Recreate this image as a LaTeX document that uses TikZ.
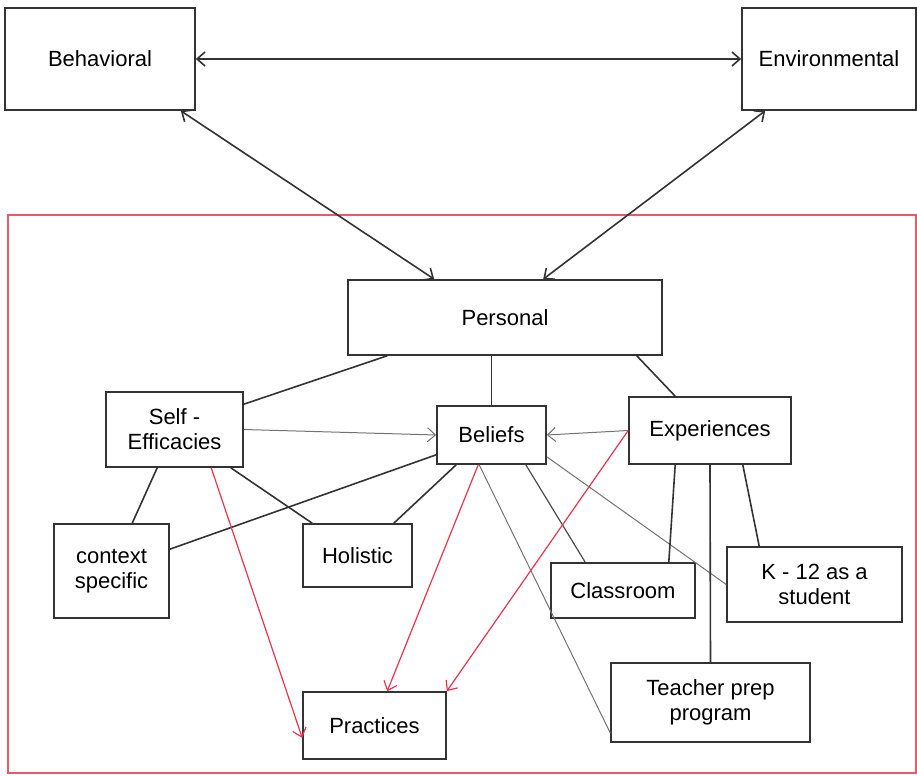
\documentclass[tikz,border=0pt]{standalone}
\usepackage{fontspec}
\setmainfont{Liberation Sans}
\usetikzlibrary{arrows.meta}
\definecolor{framered}{RGB}{232,90,105}
\definecolor{arrowred}{RGB}{232,52,78}

\begin{document}
\begin{tikzpicture}[
    x=0.5pt, y=-0.5pt,
    >={Straight Barb[length=4pt, width=7pt]},
    box/.style={draw=black!80, line width=0.8pt, rectangle, align=center, inner sep=0pt,
                font=\fontsize{11}{12.5}\selectfont},
    link/.style={draw=black!80, line width=0.8pt},
    thin link/.style={draw=black!55, line width=0.5pt},
    redarrow/.style={draw=arrowred, line width=0.6pt, ->}
]
  \useasboundingbox (0,0) rectangle (917,776);

  % Red frame around the personal factors
  \draw[framered, line width=0.6pt] (8,215) rectangle (916,773);

  % Top row
  \node[box, minimum width=95pt, minimum height=51pt] (beh) at (100,59) {Behavioral};
  \node[box, minimum width=87pt, minimum height=51pt] (env) at (829,59) {Environmental};

  % Personal
  \node[box, minimum width=157pt, minimum height=37.5pt] (personal) at (505,317.5) {Personal};

  % Second row
  \node[box, minimum width=68.5pt, minimum height=37.5pt] (self) at (174.5,429.5) {Self -\\Efficacies};
  \node[box, minimum width=54.5pt, minimum height=29pt] (beliefs) at (491.5,435) {Beliefs};
  \node[box, minimum width=81pt, minimum height=33.5pt] (exp) at (710,430.5) {Experiences};

  % Third row
  \node[box, minimum width=57.5pt, minimum height=47pt] (context) at (111.5,571) {context\\specific};
  \node[box, minimum width=54.5pt, minimum height=31.5pt] (holistic) at (357.5,555.5) {Holistic};
  \node[box, minimum width=72pt, minimum height=27.5pt] (classroom) at (623,590.5) {Classroom};
  \node[box, minimum width=87.5pt, minimum height=37.5pt] (kstudent) at (814.5,584.5) {K - 12 as a\\student};

  % Bottom row
  \node[box, minimum width=71.5pt, minimum height=33.5pt] (practices) at (374.5,725.5) {Practices};
  \node[box, minimum width=99.5pt, minimum height=39.5pt] (teacher) at (710.5,702.5) {Teacher prep\\program};

  % Triad arrows
  \draw[link, <->] (beh.east) -- (env.west);
  \draw[link, <->] ([xshift=-7.5pt]beh.south east) -- ([xshift=43.5pt]personal.north west);
  \draw[link, <->] ([xshift=12pt]env.south west) -- ([xshift=98pt]personal.north west);

  % Personal to second row
  \draw[link] (beliefs.north) -- (beliefs.north |- personal.south);
  \draw[link] ([xshift=20pt]personal.south west) -- ([yshift=-6.5pt]self.north east);
  \draw[link] ([xshift=-13pt]personal.south east) -- ([xshift=23.5pt]exp.north west);

  % Into beliefs
  \draw[thin link, ->] (self.east) -- (beliefs.west);
  \draw[thin link, ->] (exp.west) -- (beliefs.east);

  % Self-efficacies and beliefs below
  \draw[link] ([xshift=26pt]self.south west) -- ([xshift=39.5pt]context.north west);
  \draw[link] ([xshift=-6.5pt]self.south east) -- ([xshift=5pt]holistic.north west);
  \draw[link] ([yshift=5pt]beliefs.south west) -- ([yshift=-13pt]context.north east);
  \draw[link] ([xshift=10pt]beliefs.south west) -- ([xshift=-9.5pt]holistic.north east);
  \draw[link, draw=black!70, line width=0.6pt] ([xshift=-10.5pt]beliefs.south east) -- ([xshift=17.5pt]classroom.north west);
  \draw[thin link] ([yshift=4pt]beliefs.south east) -- (kstudent.west);
  \draw[thin link] ([xshift=21.5pt]beliefs.south west) -- ([yshift=5pt]teacher.south west);

  % Experiences below
  \draw[link] ([xshift=23.5pt]exp.south west) -- ([xshift=-13.5pt]classroom.north east);
  \draw[link] (exp.south) -- (teacher.north);
  \draw[link] ([xshift=-24.5pt]exp.south east) -- ([xshift=16.5pt]kstudent.north west);

  % Red arrows into practices
  \draw[redarrow] ([xshift=53pt]self.south west) -- ([yshift=11pt]practices.south west);
  \draw[redarrow] ([xshift=21pt]beliefs.south west) -- ([xshift=42.5pt]practices.north west);
  \draw[redarrow] (exp.west) -- (practices.north east);
\end{tikzpicture}
\end{document}
